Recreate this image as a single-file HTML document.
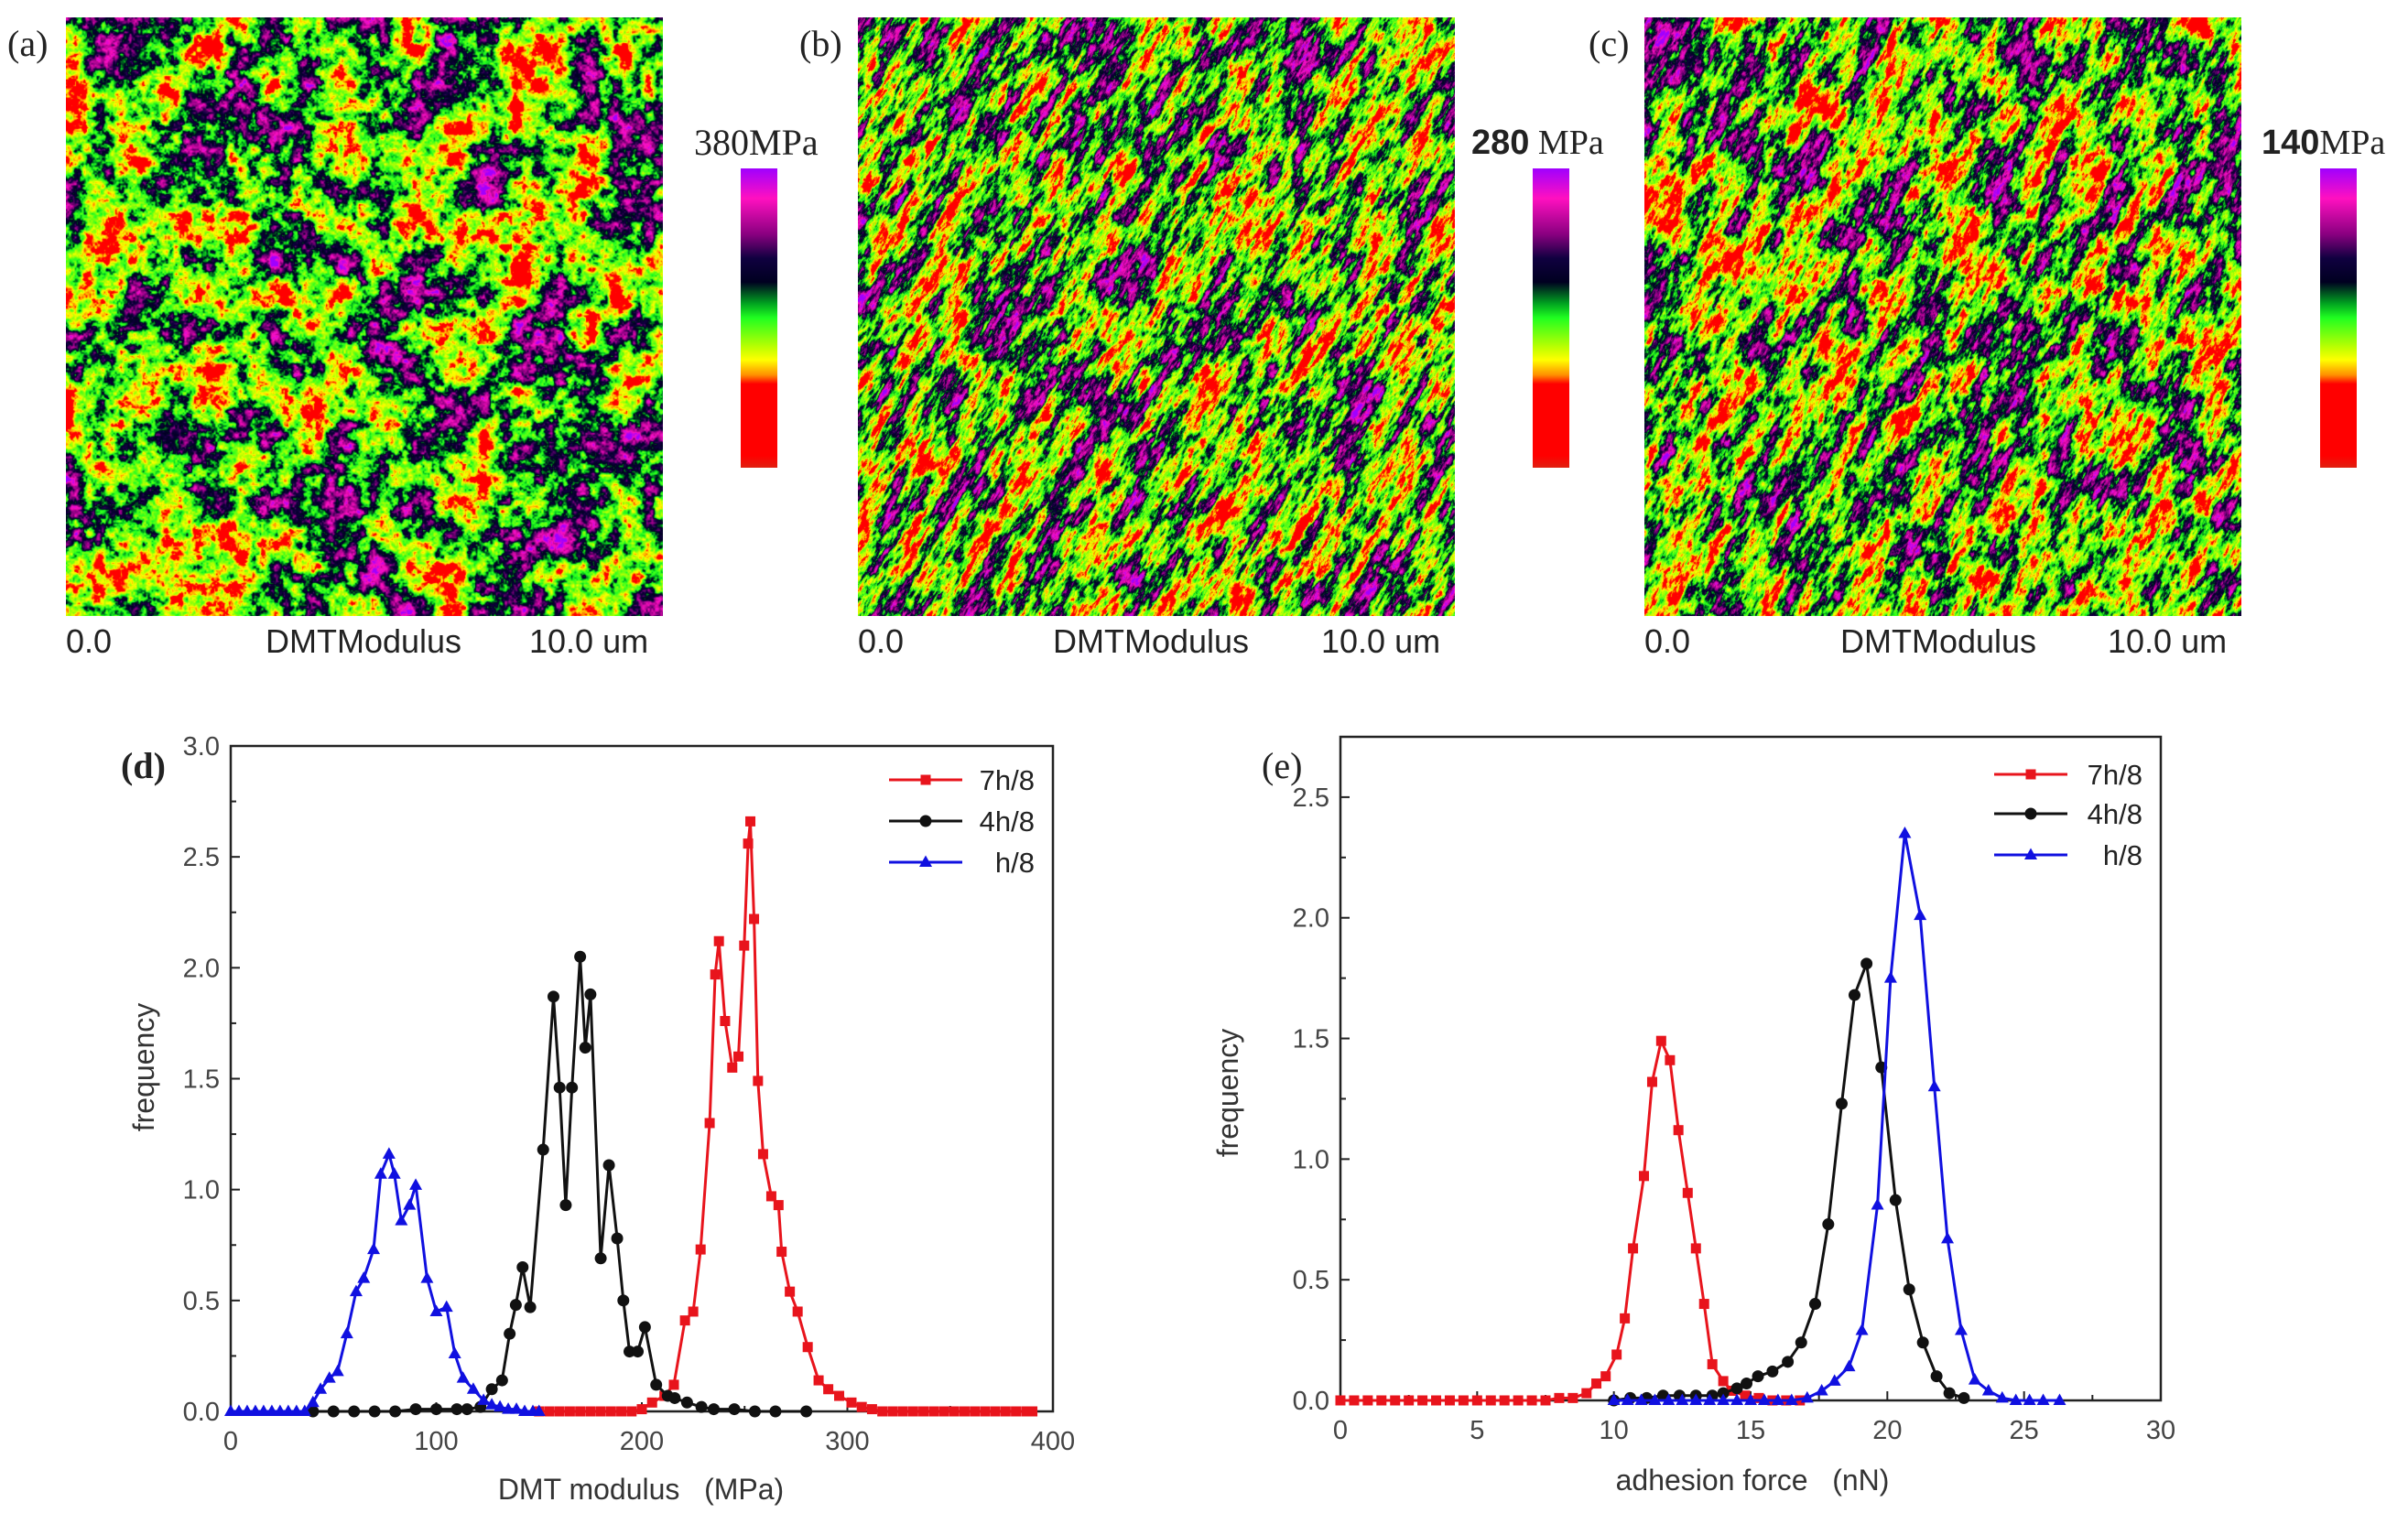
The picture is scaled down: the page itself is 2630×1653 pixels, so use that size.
<!DOCTYPE html>
<html><head><meta charset="utf-8">
<style>
html,body{margin:0;padding:0;background:#fff;}
body{width:2630px;height:1653px;position:relative;overflow:hidden;font-family:"Liberation Sans",sans-serif;}
canvas{position:absolute;}
.lbl{position:absolute;white-space:nowrap;color:#222;}
.serif{font-family:"Liberation Serif",serif;}
.cbar{position:absolute;width:40px;height:327px;top:184px;background:linear-gradient(to bottom,#a000ff 0%,#ff10c0 10%,#8a0080 22%,#100040 30%,#000020 38%,#00a020 45%,#20ff20 50%,#c0ff00 60%,#ffff00 64%,#ff9000 69%,#ff0000 72%,#ff0000 96%,#e02010 100%);}
svg{position:absolute;left:0;top:0;}
svg text{white-space:pre;}
</style></head>
<body>
<canvas id="mapA" width="652" height="654" style="left:72px;top:19px"></canvas>
<canvas id="mapB" width="652" height="654" style="left:937px;top:19px"></canvas>
<canvas id="mapC" width="652" height="654" style="left:1796px;top:19px"></canvas>

<div class="lbl serif" style="left:8px;top:24px;font-size:40px">(a)</div>
<div class="lbl serif" style="left:873px;top:24px;font-size:40px">(b)</div>
<div class="lbl serif" style="left:1735px;top:24px;font-size:40px">(c)</div>

<div class="lbl serif" style="left:758px;top:132px;font-size:40px">380MPa</div>
<div class="lbl" style="left:1607px;top:134px;font-size:38px"><b>280</b><span class="serif"> MPa</span></div>
<div class="lbl" style="left:2470px;top:134px;font-size:38px"><b>140</b><span class="serif">MPa</span></div>

<div class="cbar" style="left:809px"></div>
<div class="cbar" style="left:1674px"></div>
<div class="cbar" style="left:2534px"></div>

<div class="lbl" style="left:72px;top:680px;font-size:36px">0.0</div>
<div class="lbl" style="left:290px;top:680px;font-size:36px">DMTModulus</div>
<div class="lbl" style="left:578px;top:680px;font-size:36px">10.0 um</div>
<div class="lbl" style="left:937px;top:680px;font-size:36px">0.0</div>
<div class="lbl" style="left:1150px;top:680px;font-size:36px">DMTModulus</div>
<div class="lbl" style="left:1443px;top:680px;font-size:36px">10.0 um</div>
<div class="lbl" style="left:1796px;top:680px;font-size:36px">0.0</div>
<div class="lbl" style="left:2010px;top:680px;font-size:36px">DMTModulus</div>
<div class="lbl" style="left:2302px;top:680px;font-size:36px">10.0 um</div>

<svg id="charts" width="2630" height="1653"></svg>

<script>
// ---------- chart data ----------
const dXTicks=[0,100,200,300,400];
const dYTicks=["0.0","0.5","1.0","1.5","2.0","2.5","3.0"];
const eXTicks=[0,5,10,15,20,25,30];
const eYTicks=["0.0","0.5","1.0","1.5","2.0","2.5"];
const seriesNames=["7h/8","4h/8","h/8"];

const dRedX=[150,155,160,165,170,175,180,185,190,195,200,205,211,215.6,221,225,228.6,233,235.7,237.5,240.5,244,247,249.8,251.7,252.8,254.6,256.5,259,263,266.5,268,272,275.8,280.7,286,290.7,296,302,307,312,317,322,327,332,337,342,347,352,357,362,367,372,377,382,387,390];
const dRedY=[0,0,0,0,0,0,0,0,0,0,0.01,0.04,0.07,0.12,0.41,0.45,0.73,1.3,1.97,2.12,1.76,1.55,1.6,2.1,2.56,2.66,2.22,1.49,1.16,0.97,0.93,0.72,0.54,0.45,0.29,0.14,0.1,0.07,0.04,0.02,0.01,0,0,0,0,0,0,0,0,0,0,0,0,0,0,0,0];
const dBlkX=[40,50,60,70,80,90,100,110,115,121.5,127,132,135.7,138.7,142,145.7,152,157,160,163,166,170,172.5,175,180,184,188,191,194,198,201.5,207,212.6,216,222,229,235,245,255,265,280];
const dBlkY=[0,0,0,0,0,0.01,0.01,0.01,0.01,0.02,0.1,0.14,0.35,0.48,0.65,0.47,1.18,1.87,1.46,0.93,1.46,2.05,1.64,1.88,0.69,1.11,0.78,0.5,0.27,0.27,0.38,0.12,0.07,0.06,0.04,0.02,0.01,0.01,0,0,0];
const dBluX=[0,4,8,12,16,20,24,28,32,36,40,43.7,48,52,56.5,61,64.7,69.5,73,77,79.6,83,87,90,95.5,100,105,109,113,118,123,127,131,135,139,143,147,150];
const dBluY=[0,0,0,0,0,0,0,0,0,0,0.04,0.1,0.15,0.18,0.35,0.54,0.6,0.73,1.07,1.16,1.07,0.86,0.93,1.02,0.6,0.45,0.47,0.26,0.15,0.1,0.05,0.03,0.02,0.01,0.01,0,0,0];

const eRedX=[0,0.5,1,1.5,2,2.5,3,3.5,4,4.5,5,5.5,6,6.5,7,7.5,8,8.5,9,9.36,9.7,10.1,10.4,10.7,11.1,11.4,11.73,12.05,12.36,12.7,13.0,13.3,13.6,14.0,14.3,14.8,15.3,15.8,16.3,16.8];
const eRedY=[0,0,0,0,0,0,0,0,0,0,0,0,0,0,0,0,0.01,0.01,0.03,0.07,0.1,0.19,0.34,0.63,0.93,1.32,1.49,1.41,1.12,0.86,0.63,0.4,0.15,0.08,0.04,0.02,0.01,0,0,0];
const eBlkX=[10,10.6,11.2,11.8,12.4,13,13.6,14,14.5,14.85,15.27,15.8,16.36,16.85,17.36,17.84,18.33,18.8,19.24,19.78,20.3,20.8,21.3,21.8,22.27,22.8];
const eBlkY=[0,0.01,0.01,0.02,0.02,0.02,0.02,0.03,0.05,0.07,0.1,0.12,0.16,0.24,0.4,0.73,1.23,1.68,1.81,1.38,0.83,0.46,0.24,0.1,0.03,0.01];
const eBluX=[10,10.5,11,11.5,12,12.5,13,13.5,14,14.5,15,15.5,16,16.5,17.07,17.6,18.07,18.6,19.07,19.64,20.12,20.64,21.2,21.72,22.2,22.7,23.2,23.7,24.2,24.7,25.2,25.7,26.3];
const eBluY=[0,0,0,0,0,0,0,0,0,0,0,0,0,0,0.01,0.04,0.08,0.14,0.29,0.81,1.75,2.35,2.01,1.3,0.67,0.29,0.085,0.04,0.01,0,0,0,0];

// ---------- drawing ----------
const NS="http://www.w3.org/2000/svg";
const svg=document.getElementById('charts');
function mk(tag,attrs,parent){const e=document.createElementNS(NS,tag);for(const k in attrs)e.setAttribute(k,attrs[k]);(parent||svg).appendChild(e);return e;}

function chart(cfg){
  const g=mk('g',{});
  
  
  const sx=v=>cfg.x0+(v-cfg.xmin)/(cfg.xmax-cfg.xmin)*(cfg.x1-cfg.x0);
  const sy=v=>cfg.y0-(v/cfg.ymax)*(cfg.y0-cfg.y1);
  const fr=mk('rect',{x:cfg.x0,y:cfg.y1,width:cfg.x1-cfg.x0,height:cfg.y0-cfg.y1,fill:'none',stroke:'#222','stroke-width':2.5},g);
  
  
  cfg.xticks.forEach((t,i)=>{
    const x=sx(t);
    mk('line',{x1:x,x2:x,y1:cfg.y0,y2:cfg.y0-10,stroke:'#222','stroke-width':2},g);
    if(i<cfg.xticks.length-1) mk('line',{x1:sx(t+cfg.xstep/2),x2:sx(t+cfg.xstep/2),y1:cfg.y0,y2:cfg.y0-6,stroke:'#222','stroke-width':2},g);
    const tx=mk('text',{x:x,y:cfg.y0+42,'font-size':29,'text-anchor':'middle',fill:'#444'},g);
    tx.textContent=t;
    
    
  });
  cfg.yticks.forEach((t,i)=>{
    const v=parseFloat(t);const y=sy(v);
    mk('line',{x1:cfg.x0,x2:cfg.x0+10,y1:y,y2:y,stroke:'#222','stroke-width':2},g);
    if(sy(v+0.25)>=cfg.y1) mk('line',{x1:cfg.x0,x2:cfg.x0+6,y1:sy(v+0.25),y2:sy(v+0.25),stroke:'#222','stroke-width':2},g);
    const tx=mk('text',{x:cfg.x0-12,y:y+10,'font-size':29,'text-anchor':'end',fill:'#444'},g);
    tx.textContent=t;
    
    
  });
  const xt=mk('text',{x:cfg.xtx,y:cfg.xty,'font-size':32,'text-anchor':'middle',fill:'#333'},g);
  xt.textContent=cfg.xtitle;
  
  
  const yt=mk('text',{x:0,y:0,'font-size':32,'text-anchor':'middle',fill:'#333',transform:`translate(${cfg.ytx},${cfg.yty}) rotate(-90)`},g);
  yt.textContent='frequency';
  
  
  const pl=mk('text',{x:cfg.plx,y:cfg.ply,'font-size':40,fill:'#222','font-family':'Liberation Serif, serif','font-weight':cfg.plb?'bold':'normal'},g);
  pl.textContent=cfg.plabel;
  
  

  const colors=['#e8141c','#111111','#1010e0'];
  const shapes=['sq','ci','tr'];
  function marker(par,x,y,s,c){
    let m;
    if(s==='sq') m=mk('rect',{x:x-5.5,y:y-5.5,width:11,height:11,fill:c},par);
    else if(s==='ci') m=mk('circle',{cx:x,cy:y,r:6.5,fill:c},par);
    else m=mk('polygon',{points:`${x},${y-7.5} ${x+7},${y+5} ${x-7},${y+5}`,fill:c},par);
    return m;
  }
  cfg.series.forEach((s,k)=>{
    const sg=mk('g',{},g);
    
    
    const pts=s[0].map((xv,i)=>sx(xv).toFixed(1)+','+sy(s[1][i]).toFixed(1)).join(' ');
    mk('polyline',{points:pts,fill:'none',stroke:colors[k],'stroke-width':3,'stroke-linejoin':'round'},sg);
    s[0].forEach((xv,i)=>{
      const m=marker(sg,sx(xv),sy(s[1][i]),shapes[k],colors[k]);
      
      
    });
    const ly=cfg.legY[k];
    const lg=mk('g',{},g);
    
    
    mk('line',{x1:cfg.legX,x2:cfg.legX+80,y1:ly,y2:ly,stroke:colors[k],'stroke-width':3},lg);
    marker(lg,cfg.legX+40,ly,shapes[k],colors[k]);
    const lt=mk('text',{x:cfg.legTX,y:ly+11,'font-size':31,'text-anchor':'end',fill:'#222'},lg);
    lt.textContent=seriesNames[k];
  });
}

chart({name:'chart-d-dmt-modulus',x0:252,x1:1150,y1:815,y0:1542,xmin:0,xmax:400,ymax:3.0,xstep:100,
  xticks:dXTicks,yticks:dYTicks,xtitle:'DMT modulus   (MPa)',xtx:700,xty:1638,ytx:168,yty:1166,
  plabel:'(d)',plx:132,ply:850,plb:true,legX:971,legTX:1130,legY:[852,897,942],
  series:[[dRedX,dRedY],[dBlkX,dBlkY],[dBluX,dBluY]]});
chart({name:'chart-e-adhesion-force',x0:1464,x1:2360,y1:805,y0:1530,xmin:0,xmax:30,ymax:2.75,xstep:5,
  xticks:eXTicks,yticks:eYTicks,xtitle:'adhesion force   (nN)',xtx:1914,xty:1628,ytx:1352,yty:1194,
  plabel:'(e)',plx:1378,ply:850,plb:false,legX:2178,legTX:2340,legY:[846,889,934],
  series:[[eRedX,eRedY],[eBlkX,eBlkY],[eBluX,eBluY]]});

// ---------- AFM texture maps ----------
const stops=[[0,[160,0,255]],[0.1,[255,16,192]],[0.22,[138,0,128]],[0.3,[16,0,64]],[0.38,[0,0,32]],[0.45,[0,150,30]],[0.5,[32,255,32]],[0.6,[192,255,0]],[0.64,[255,255,0]],[0.69,[255,144,0]],[0.72,[255,0,0]],[1,[255,0,0]]];
function cmap(t){
  t=Math.max(0,Math.min(1,t));
  for(let i=1;i<stops.length;i++){if(t<=stops[i][0]){const a=stops[i-1],b=stops[i];const f=(t-a[0])/(b[0]-a[0]);return [0,1,2].map(j=>a[1][j]+(b[1][j]-a[1][j])*f);}}
  return stops[stops.length-1][1];
}
function rng(seed){let s=seed>>>0;return ()=>{s=(s*1664525+1013904223)>>>0;return s/4294967296;};}
function makeNoise(seed,n){
  const r=rng(seed);const g=new Float32Array(n*n);for(let i=0;i<g.length;i++)g[i]=r();
  return (x,y)=>{x=((x%n)+n)%n;y=((y%n)+n)%n;const xi=Math.floor(x),yi=Math.floor(y);const fx=x-xi,fy=y-yi;
    const sx=fx*fx*(3-2*fx),sy=fy*fy*(3-2*fy);const x1=(xi+1)%n,y1=(yi+1)%n;
    const a=g[yi*n+xi],b=g[yi*n+x1],c=g[y1*n+xi],d=g[y1*n+x1];
    return a+(b-a)*sx+(c-a)*sy+(a-b-c+d)*sx*sy;};
}
function drawMap(id,seed,ang,stretch,center){
  const cv=document.getElementById(id);const ctx=cv.getContext('2d');
  const W=cv.width,H=cv.height;const img=ctx.createImageData(W,H);
  const n1=makeNoise(seed,256),n2=makeNoise(seed+7,256),n3=makeNoise(seed+13,256),n4=makeNoise(seed+29,512);
  const ca=Math.cos(ang),sa=Math.sin(ang);
  for(let y=0;y<H;y++)for(let x=0;x<W;x++){
    const u=(x*ca+y*sa),v=(-x*sa+y*ca)*stretch;
    const raw=0.45*n1(u/38,v/38)+0.28*n2(u/12,v/12)+0.17*n3(u/5,v/5)+0.1*n4(u/2,v/2);
    let d=raw-0.5;
    const t=center+(d>0?d*1.15:d*1.6);
    const c=cmap(t);
    const k=(y*W+x)*4;img.data[k]=c[0];img.data[k+1]=c[1];img.data[k+2]=c[2];img.data[k+3]=255;
  }
  ctx.putImageData(img,0,0);
}
drawMap('mapA',11,0.0,1.0,0.49);
drawMap('mapB',23,-1.05,3.0,0.51);
drawMap('mapC',37,-1.1,2.4,0.51);
</script>
</body></html>
